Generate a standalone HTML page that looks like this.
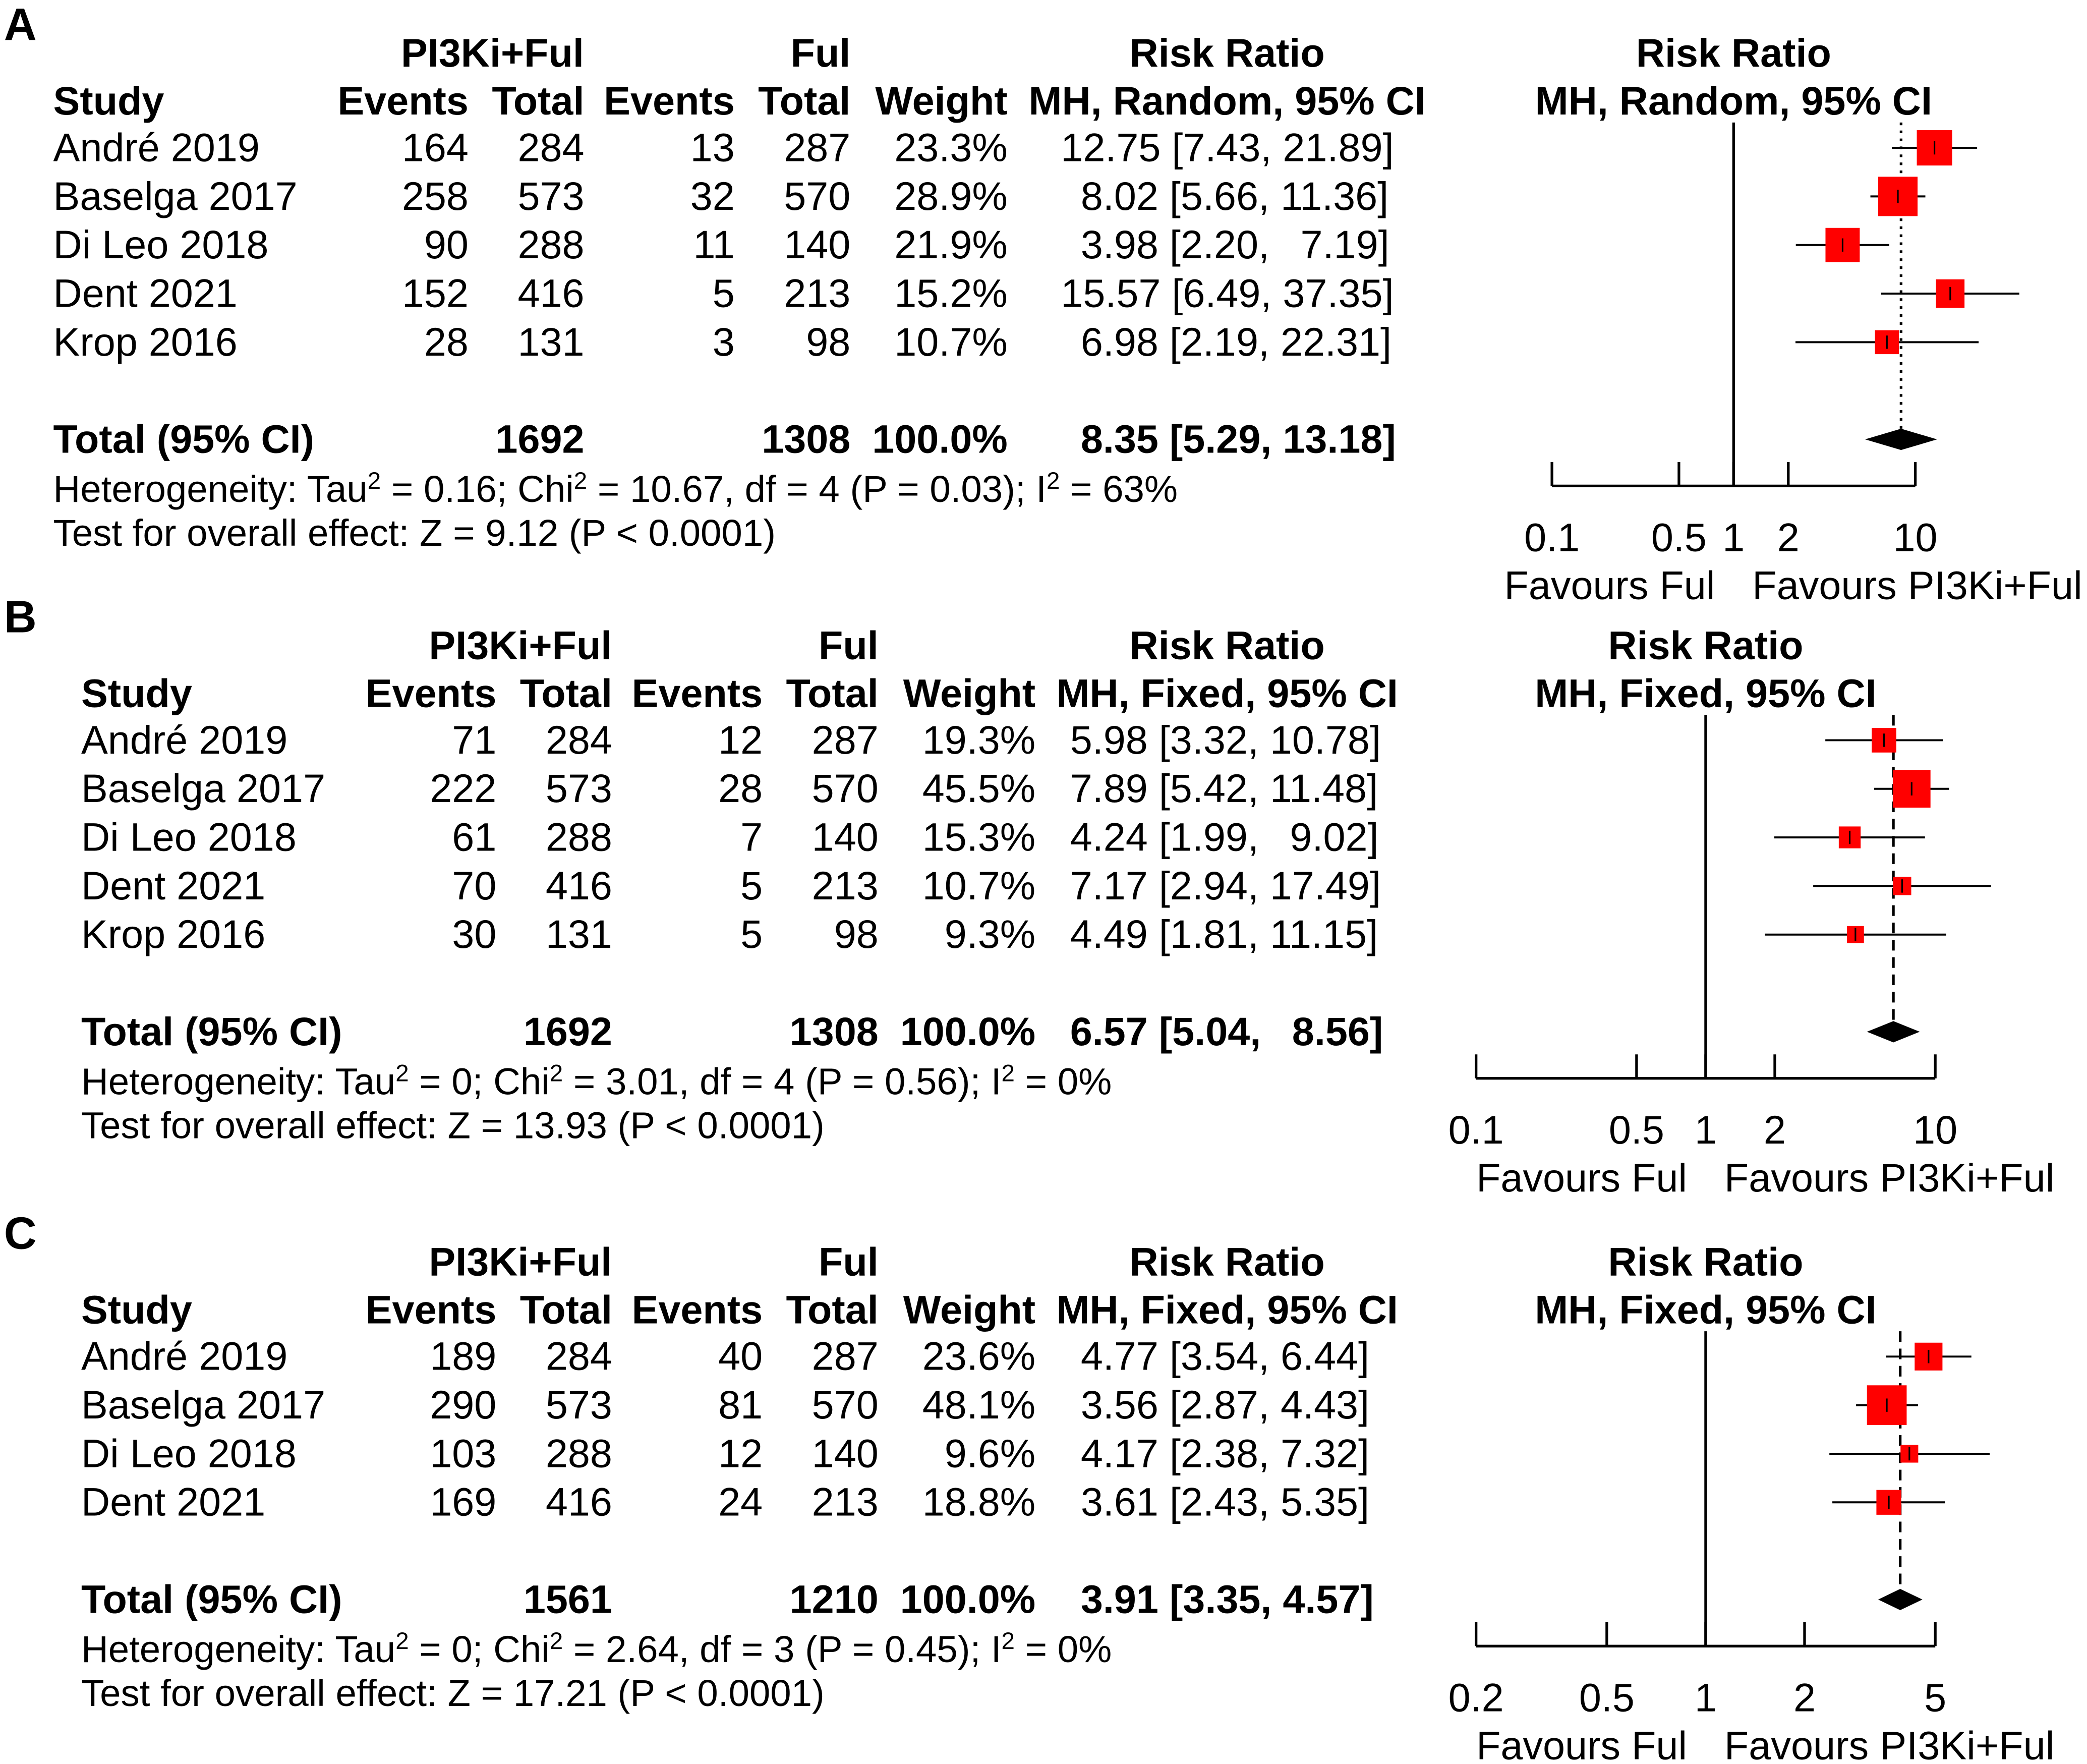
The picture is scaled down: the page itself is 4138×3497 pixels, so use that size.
<!DOCTYPE html>
<html><head><meta charset="utf-8"><style>
html,body{margin:0;padding:0;background:#fff}
svg{display:block}
text{font-family:"Liberation Sans",Arial,sans-serif;font-size:30px;fill:#000;white-space:pre}
.b{font-weight:bold}
.sm{font-size:28.2px}
.lbl{font-size:34px;font-weight:bold}
.sup{font-size:18px}
</style></head><body>
<svg id="fig" xmlns="http://www.w3.org/2000/svg" width="4138" height="3497" viewBox="0 0 1568 1325" xml:space="preserve">
<rect width="1568" height="1325" fill="#fff"/>
</svg>
<script>
// ---- data ----
const studiesA = ["André 2019","Baselga 2017","Di Leo 2018","Dent 2021","Krop 2016"];
const evTrtA = [164,258,90,152,28];
const totTrtA = [284,573,288,416,131];
const evCtlA = [13,32,11,5,3];
const totCtlA = [287,570,140,213,98];
const weightA = [23.3,28.9,21.9,15.2,10.7];
const rrA = [12.75,8.02,3.98,15.57,6.98];
const loA = [7.43,5.66,2.20,6.49,2.19];
const hiA = [21.89,11.36,7.19,37.35,22.31];
const pooledA = [8.35,5.29,13.18];
const sumA = [1692,1308];
const ticksA = [0.1,0.5,1,2,10];

const studiesB = ["André 2019","Baselga 2017","Di Leo 2018","Dent 2021","Krop 2016"];
const evTrtB = [71,222,61,70,30];
const totTrtB = [284,573,288,416,131];
const evCtlB = [12,28,7,5,5];
const totCtlB = [287,570,140,213,98];
const weightB = [19.3,45.5,15.3,10.7,9.3];
const rrB = [5.98,7.89,4.24,7.17,4.49];
const loB = [3.32,5.42,1.99,2.94,1.81];
const hiB = [10.78,11.48,9.02,17.49,11.15];
const pooledB = [6.57,5.04,8.56];
const sumB = [1692,1308];
const ticksB = [0.1,0.5,1,2,10];

const studiesC = ["André 2019","Baselga 2017","Di Leo 2018","Dent 2021"];
const evTrtC = [189,290,103,169];
const totTrtC = [284,573,288,416];
const evCtlC = [40,81,12,24];
const totCtlC = [287,570,140,213];
const weightC = [23.6,48.1,9.6,18.8];
const rrC = [4.77,3.56,4.17,3.61];
const loC = [3.54,2.87,2.38,2.43];
const hiC = [6.44,4.43,7.32,5.35];
const pooledC = [3.91,3.35,4.57];
const sumC = [1561,1210];
const ticksC = [0.2,0.5,1,2,5];

const NS="http://www.w3.org/2000/svg";
const svg=document.getElementById('fig');
function el(tag,attrs,parent){const e=document.createElementNS(NS,tag);for(const k in attrs)e.setAttribute(k,attrs[k]);(parent||svg).appendChild(e);return e;}
function txt(s,x,y,anchor,bold,name,parent){const t=el('text',{x:x,y:y,'text-anchor':anchor||'start'},parent);if(bold)t.setAttribute('class','b');t.textContent=s;


return t;}
function f2(v){return v.toFixed(2);}
function ci(r,l,h,padR,padH){let rs=f2(r),hs=f2(h);if(padR&&rs.length<5)rs='\u2002'+rs;if(padH&&hs.length<5)hs='\u2002'+hs;return rs+' ['+f2(l)+', '+hs+']';}

function panel(cfg){
  const g=el('g',{});
  
  
  const dx=cfg.dx, y0=cfg.y0, hy=y0+10;
  txt(cfg.label,3,y0-10,'start',false,'panel-label',g).setAttribute('class','lbl');
  txt('PI3Ki+Ful',370+dx,hy,'middle',true,'treatment-header',g);
  txt('Ful',639+dx,hy,'end',true,'control-header',g);
  txt('Risk Ratio',922,hy,'middle',true,'risk-ratio-header',g);
  txt('Study',40+dx,hy+36,'start',true,'study-header',g);
  txt('Events',352+dx,hy+36,'end',true,'events-header',g);
  txt('Total',439+dx,hy+36,'end',true,'total-header',g);
  txt('Events',552+dx,hy+36,'end',true,'events-header',g);
  txt('Total',639+dx,hy+36,'end',true,'total-header',g);
  txt('Weight',757+dx,hy+36,'end',true,'weight-header',g);
  txt(cfg.method,922,hy+36,'middle',true,'method-header',g);
  txt('Risk Ratio',cfg.cx,hy,'middle',true,'plot-header',g);
  txt(cfg.method,cfg.cx,hy+36,'middle',true,'plot-method-header',g);
  const X=v=>cfg.cx+Math.log10(v)*cfg.dec;
  const rowY=i=>y0+71+i*36.5;
  const padR=cfg.rr.some(v=>v>=10), padH=cfg.hi.some(v=>v>=10);
  cfg.studies.forEach((s,i)=>{
    const y=rowY(i)+10;
    txt(s,40+dx,y,'start',false,'study-name',g);
    txt(String(cfg.evT[i]),352+dx,y,'end',false,'trt-events',g);
    txt(String(cfg.totT[i]),439+dx,y,'end',false,'trt-total',g);
    txt(String(cfg.evC[i]),552+dx,y,'end',false,'ctl-events',g);
    txt(String(cfg.totC[i]),639+dx,y,'end',false,'ctl-total',g);
    txt(cfg.w[i].toFixed(1)+'%',757+dx,y,'end',false,'weight-value',g);
    txt(ci(cfg.rr[i],cfg.lo[i],cfg.hi[i],padR,padH),cfg.ciX,y,'start',false,'ci-value',g);
  });
  const tc=rowY(cfg.studies.length-1)+73;
  const ty=tc+10;
  txt('Total (95% CI)',40+dx,ty,'start',true,'total-label',g);
  txt(String(cfg.sum[0]),439+dx,ty,'end',true,'trt-sum',g);
  txt(String(cfg.sum[1]),639+dx,ty,'end',true,'ctl-sum',g);
  txt('100.0%',757+dx,ty,'end',true,'weight-sum',g);
  txt(ci(cfg.pooled[0],cfg.pooled[1],cfg.pooled[2],padR,padH),cfg.ciX,ty,'start',true,'pooled-ci',g);
  const h=txt('',40+dx,tc+47,'start',false,'heterogeneity-text',g);
  h.setAttribute('class','sm');
  h.innerHTML=cfg.het;
  const zt=txt(cfg.z,40+dx,tc+80,'start',false,'overall-effect-text',g);
  zt.setAttribute('class','sm');
  const axY=tc+35;
  const vl=el('line',{x1:X(1),x2:X(1),y1:y0+52,y2:axY,stroke:'#000','stroke-width':2},g);
  
  
  const pl=el('line',{x1:X(cfg.pooled[0]),x2:X(cfg.pooled[0]),y1:y0+52,y2:tc,stroke:'#000','stroke-width':2,'stroke-dasharray':cfg.dash},g);
  
  
  cfg.studies.forEach((s,i)=>{
    const y=rowY(i);
    const l=el('line',{x1:X(cfg.lo[i]),x2:X(cfg.hi[i]),y1:y,y2:y,stroke:'#000','stroke-width':1.5},g);
    
    
    const sz=cfg.k*Math.sqrt(cfg.w[i]);
    const r=el('rect',{x:X(cfg.rr[i])-sz/2,y:y-sz/2,width:sz,height:sz,fill:'#ff0000'},g);
    
    
    const t=el('line',{x1:X(cfg.rr[i]),x2:X(cfg.rr[i]),y1:y-5,y2:y+5,stroke:'#000','stroke-width':1.2},g);
    
    
  });
  const dy=tc;
  const d=el('polygon',{points:`${X(cfg.pooled[1])},${dy} ${X(cfg.pooled[0])},${dy-8} ${X(cfg.pooled[2])},${dy} ${X(cfg.pooled[0])},${dy+8}`,fill:'#000'},g);
  
  
  const ax=el('line',{x1:X(cfg.ticks[0]),x2:X(cfg.ticks[cfg.ticks.length-1]),y1:axY,y2:axY,stroke:'#000','stroke-width':2},g);
  
  
  cfg.ticks.forEach(v=>{
    const tk=el('line',{x1:X(v),x2:X(v),y1:axY-18,y2:axY,stroke:'#000','stroke-width':2},g);
    
    
    txt(String(v),X(v),axY+49,'middle',false,'x-tick-label',g);
  });
  txt('Favours Ful',X(1)-14,axY+85,'end',false,'favours-control-label',g);
  const ft=txt('Favours PI3Ki+Ful',X(1)+14,axY+85,'start',false,'favours-treatment-label',g);
  ft.setAttribute('textLength', cfg.favW);
}

const S='<tspan class="sup" baseline-shift="super">2</tspan>';
panel({label:'A',dx:0,y0:40,cx:1302.5,dec:136.5,method:'MH, Random, 95% CI',studies:studiesA,evT:evTrtA,totT:totTrtA,evC:evCtlA,totC:totCtlA,w:weightA,rr:rrA,lo:loA,hi:hiA,pooled:pooledA,sum:sumA,ticks:ticksA,k:5.5,dash:'2,4',ciX:797,favW:248,
 het:'Heterogeneity: Tau'+S+' = 0.16; Chi'+S+' = 10.67, df = 4 (P = 0.03); I'+S+' = 63%',
 z:'Test for overall effect: Z = 9.12 (P < 0.0001)'});
panel({label:'B',dx:21,y0:485,cx:1281.5,dec:172.5,method:'MH, Fixed, 95% CI',studies:studiesB,evT:evTrtB,totT:totTrtB,evC:evCtlB,totC:totCtlB,w:weightB,rr:rrB,lo:loB,hi:hiB,pooled:pooledB,sum:sumB,ticks:ticksB,k:4.2,dash:'8,5',ciX:804,favW:248,
 het:'Heterogeneity: Tau'+S+' = 0; Chi'+S+' = 3.01, df = 4 (P = 0.56); I'+S+' = 0%',
 z:'Test for overall effect: Z = 13.93 (P < 0.0001)'});
panel({label:'C',dx:21,y0:948,cx:1281.5,dec:246.8,method:'MH, Fixed, 95% CI',studies:studiesC,evT:evTrtC,totT:totTrtC,evC:evCtlC,totC:totCtlC,w:weightC,rr:rrC,lo:loC,hi:hiC,pooled:pooledC,sum:sumC,ticks:ticksC,k:4.3,dash:'8,5',ciX:812,favW:248,
 het:'Heterogeneity: Tau'+S+' = 0; Chi'+S+' = 2.64, df = 3 (P = 0.45); I'+S+' = 0%',
 z:'Test for overall effect: Z = 17.21 (P < 0.0001)'});
</script>
</body></html>
